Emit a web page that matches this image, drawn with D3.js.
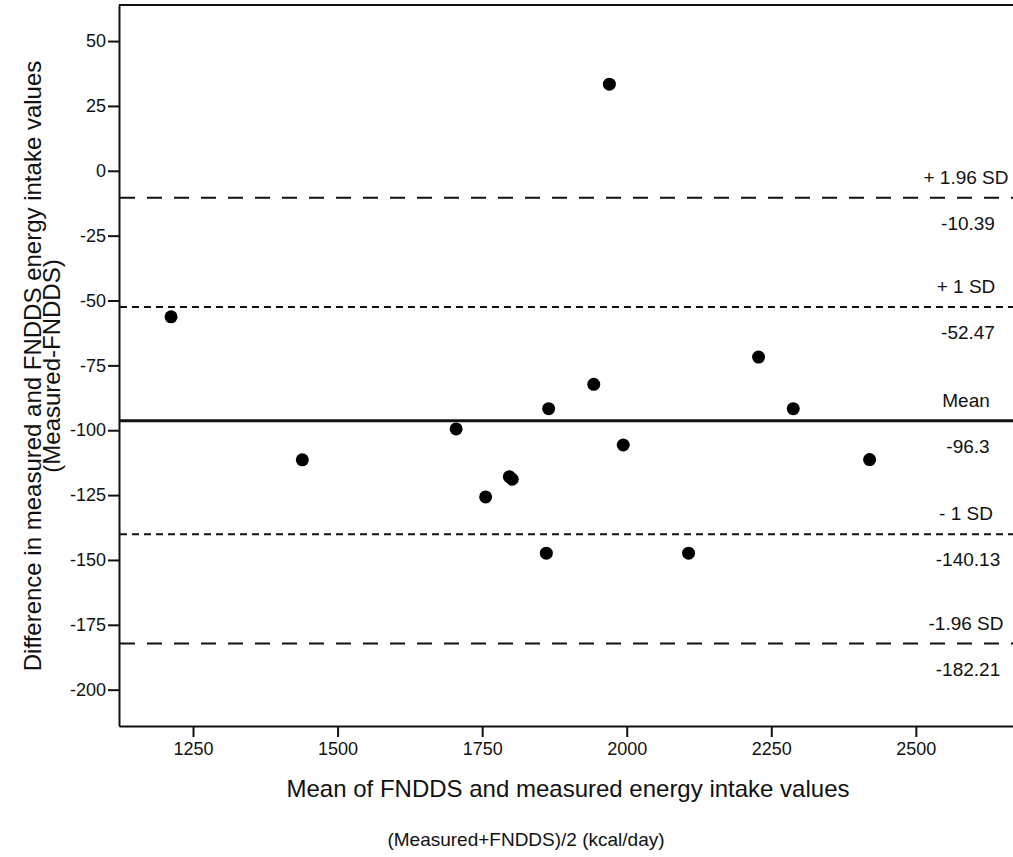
<!DOCTYPE html>
<html>
<head>
<meta charset="utf-8">
<script src="https://cdn.jsdelivr.net/npm/d3@7"></script>
<style>
  body { margin: 0; background: #fff; }
  svg { font-family: "Liberation Sans", Arial, sans-serif; }
</style>
</head>
<body>
<div id="chart"></div>
<script>
// mean of the two methods (kcal/day)
const meanVals = [1212, 1439, 1705, 1756, 1797, 1802, 1865, 1943, 1970, 1994, 1861, 2107, 2228, 2288, 2420];
// difference measured - FNDDS
const diffVals = [-56.3, -111.4, -99.5, -125.7, -117.9, -118.9, -91.7, -82.3, 33.4, -105.7, -147.4, -147.4, -71.8, -91.7, -111.3];

const refNames = ["+ 1.96 SD", "+ 1 SD", "Mean", "- 1 SD", "-1.96 SD"];
const refValues = [-10.39, -52.47, -96.3, -140.13, -182.21];
const refLabels = ["-10.39", "-52.47", "-96.3", "-140.13", "-182.21"];
const refStyle = ["long", "short", "solid", "short", "long"];

const xTicks = [1250, 1500, 1750, 2000, 2250, 2500];
const yTicks = [50, 25, 0, -25, -50, -75, -100, -125, -150, -175, -200];

var W = 1013, H = 857;
var margin = { left: 119, top: 5, right: 1013, bottom: 726 };

var svg = d3.select("#chart").append("svg")
  .attr("width", W)
  .attr("height", H);

var x = d3.scaleLinear().domain([1122, 2668]).range([margin.left, margin.right]);
var y = d3.scaleLinear().domain([-214, 63.9]).range([margin.bottom, margin.top]);

// plain hyphen for negatives, like the original
var fmt = function (d) { return String(d); };

// top frame line
svg.append("line")
  .attr("x1", margin.left).attr("x2", margin.right)
  .attr("y1", margin.top).attr("y2", margin.top)
  .attr("stroke", "#111").attr("stroke-width", 2);

var yAxis = svg.append("g")
  .attr("transform", "translate(" + margin.left + ",0)")
  .call(d3.axisLeft(y).tickValues(yTicks).tickSize(11).tickPadding(2).tickSizeOuter(0).tickFormat(fmt));

var xAxis = svg.append("g")
  .attr("transform", "translate(0," + margin.bottom + ")")
  .call(d3.axisBottom(x).tickValues(xTicks).tickSize(11).tickPadding(5).tickSizeOuter(0).tickFormat(fmt));

[xAxis, yAxis].forEach(function (a) {
  a.attr("font-size", null).attr("font-family", null);
  a.select(".domain").attr("stroke", "#111").attr("stroke-width", 2);
  a.selectAll(".tick line").attr("stroke", "#111").attr("stroke-width", 2);
  a.selectAll("text")
    .style("font-size", "18px")
    .attr("fill", "#111");
});

// reference lines (limits of agreement)
var dash = { long: "15,12", short: "7,5", solid: null };
refValues.forEach(function (v, i) {
  svg.append("line")
    .attr("x1", margin.left + 1).attr("x2", margin.right)
    .attr("y1", y(v)).attr("y2", y(v))
    .attr("stroke", "#111")
    .attr("stroke-width", refStyle[i] === "solid" ? 3 : 2)
    .attr("stroke-dasharray", dash[refStyle[i]]);

  svg.append("text")
    .attr("x", 966)
    .attr("y", y(v) - 14)
    .attr("text-anchor", "middle")
    .style("font-size", "19px")
    .attr("fill", "#111")
    .text(refNames[i]);

  svg.append("text")
    .attr("x", 968)
    .attr("y", y(v) + 32)
    .attr("text-anchor", "middle")
    .style("font-size", "19px")
    .attr("fill", "#111")
    .text(refLabels[i]);
});

// points
svg.selectAll("circle.pt")
  .data(meanVals.map(function (m, i) { return { m: m, d: diffVals[i] }; }))
  .enter()
  .append("circle")
  .classed("pt", true)
  .attr("cx", function (d) { return x(d.m); })
  .attr("cy", function (d) { return y(d.d); })
  .attr("r", 6.5)
  .attr("fill", "#000");

// axis titles
svg.append("text")
  .attr("x", 568)
  .attr("y", 797)
  .attr("text-anchor", "middle")
  .style("font-size", "24px")
  .attr("fill", "#111")
  .text("Mean of FNDDS and measured energy intake values");

svg.append("text")
  .attr("x", 526)
  .attr("y", 846)
  .attr("text-anchor", "middle")
  .style("font-size", "19px")
  .attr("fill", "#111")
  .text("(Measured+FNDDS)/2 (kcal/day)");

var yt = svg.append("text")
  .attr("transform", "translate(41,366) rotate(-90)")
  .attr("text-anchor", "middle")
  .style("font-size", "24px")
  .attr("fill", "#111");
yt.append("tspan").attr("x", 0).attr("y", 0)
  .text("Difference in measured and FNDDS energy intake values");
yt.append("tspan").attr("x", 0).attr("y", 19)
  .text("(Measured-FNDDS)");
</script>
</body>
</html>
